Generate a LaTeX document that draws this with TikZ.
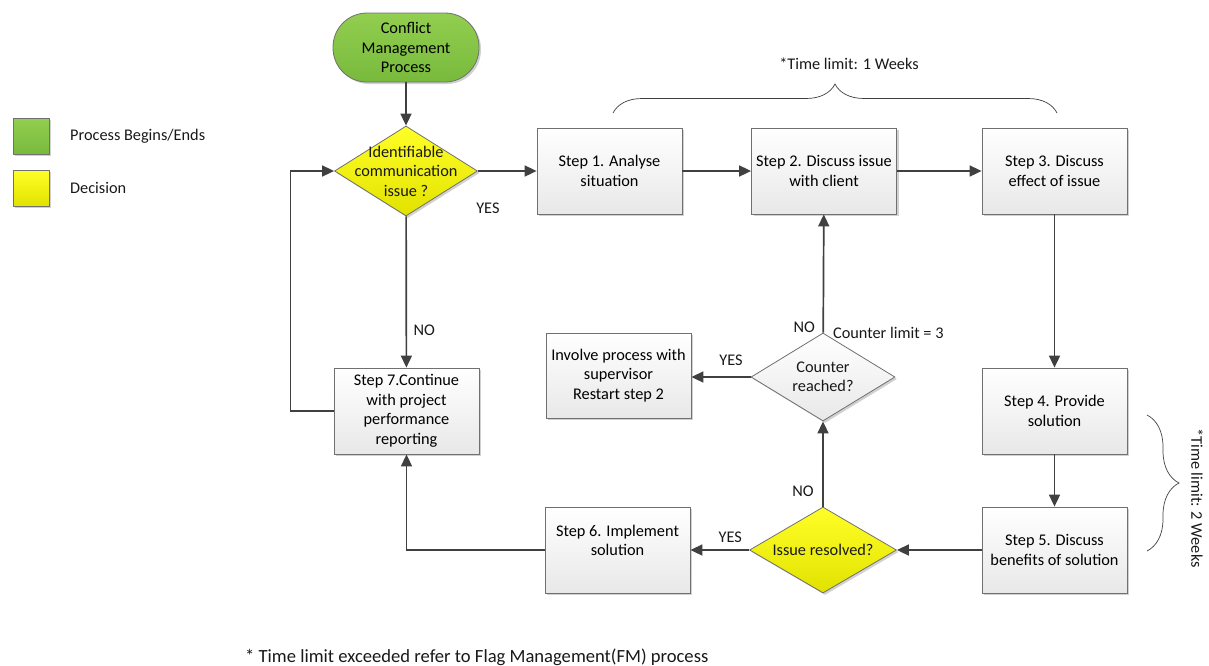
\documentclass[tikz,border=0pt]{standalone}
\usepackage{fontspec}
\setmainfont{Carlito}
\usepackage{tikz}
\usetikzlibrary{positioning,arrows.meta,shapes.geometric,shadows,decorations.pathreplacing}
\definecolor{linegray}{RGB}{64,64,64}
\definecolor{boxedge}{RGB}{112,112,112}
\definecolor{startgreen}{RGB}{146,206,80}
\definecolor{startgreendark}{RGB}{120,186,60}
\definecolor{decyellow}{RGB}{255,255,40}
\definecolor{decyellowdark}{RGB}{226,226,0}
\newcommand{\flowfont}{\fontsize{16.3}{19.5}\selectfont}
\tikzset{
  flowshadow/.style={drop shadow={shadow xshift=2pt, shadow yshift=-2pt, fill=black!30, opacity=.6}},
  flowbox/.style={draw=boxedge, line width=0.8pt, top color=white, bottom color=black!9,
    align=center, font=\flowfont, minimum width=145pt, minimum height=86pt, inner sep=2pt, flowshadow},
  flowstart/.style={flowbox, rounded corners=34pt, minimum height=69pt, minimum width=146pt,
    top color=startgreen, bottom color=startgreendark},
  flowdec/.style={diamond, draw=boxedge, line width=0.8pt, top color=white, bottom color=black!9,
    minimum width=144pt, minimum height=88pt, inner sep=0pt, flowshadow},
  flowyes/.style={top color=decyellow, bottom color=decyellowdark},
  flowkey/.style={draw=boxedge, line width=0.8pt, minimum size=36pt, inner sep=0pt, flowshadow},
  flowtext/.style={font=\flowfont, align=center, inner sep=0pt, text=black!90},
  flowarrow/.style={-{Triangle[length=12pt, width=11pt]}, line width=1.7pt, draw=linegray},
  flowbrace/.style={decorate, draw=linegray, line width=0.7pt},
}

\begin{document}
\begin{tikzpicture}[x=1pt, y=-1pt]
  \useasboundingbox (0,0) rectangle (1209,665);
  % legend
  \node[flowkey, top color=startgreen, bottom color=startgreendark] (keystart) at (31,136) {};
  \node[flowtext, anchor=west] (keystarttext) at (70,136) {Process Begins/Ends};
  \node[flowkey, flowyes] (keydec) at (31,188) {};
  \node[flowtext, anchor=west] (keydectext) at (70,188) {Decision};
  % top row
  \node[flowstart] (start) at (406,47.5) {Conflict\\Management\\Process};
  \node[flowdec, flowyes, minimum width=143pt, minimum height=90pt,
    label={[flowtext]center:Identifiable\\communication\\issue ?}] (ident) at (406,171) {};
  \node[flowbox] (step1) at (609.5,171) {Step 1. Analyse\\situation};
  \node[flowbox] (step2) at (824,171) {Step 2. Discuss issue\\with client};
  \node[flowbox] (step3) at (1054.5,171) {Step 3. Discuss\\effect of issue};
  % right column and bottom row
  \node[flowbox] (step4) at (1054.5,411) {Step 4. Provide\\solution};
  \node[flowbox] (step5) at (1054.5,550) {Step 5. Discuss\\benefits of solution};
  \node[flowdec, flowyes, minimum width=147pt, minimum height=86pt,
    label={[flowtext]center:Issue resolved?}] (resolved) at (823,550) {};
  \node[flowbox] (step6) at (617.5,550) {Step 6. Implement\\solution\\~};
  \node[flowbox] (step7) at (406.5,411) {Step 7.Continue\\with project\\performance\\reporting};
  % counter loop
  \node[flowdec, label={[flowtext]center:Counter\\reached?}] (counter) at (823,377) {};
  \node[flowbox, minimum height=85pt] (involve) at (618.5,375.5) {Involve process with\\supervisor\\Restart step 2};
  % connectors
  \draw[flowarrow] (start) -- (ident);
  \draw[flowarrow] (ident) -- node[flowtext, pos=.17, yshift=-37pt] {YES} (step1);
  \draw[flowarrow] (step1) -- (step2);
  \draw[flowarrow] (step2) -- (step3);
  \draw[flowarrow] (step3) -- (step4);
  \draw[flowarrow] (step4) -- (step5);
  \draw[flowarrow] (step5) -- (resolved);
  \draw[flowarrow] (resolved) -- node[flowtext, pos=.32, yshift=13pt] {YES} (step6);
  \draw[flowarrow] (resolved) -- node[flowtext, pos=.18, xshift=-20pt] {NO} (counter);
  \draw[flowarrow] (counter) -- node[flowtext, pos=.05, xshift=-19pt] {NO}
    node[flowtext, pos=0, anchor=west, xshift=9pt] {Counter limit = 3} (step2);
  \draw[flowarrow] (counter.west) -- node[flowtext, pos=.33, yshift=17pt] {YES} (counter.west -| involve.east);
  \draw[flowarrow] (step6.west) -| (step7.south);
  \draw[flowarrow] (ident) -- node[flowtext, pos=.75, xshift=18pt] {NO} (step7);
  \draw[flowarrow] (step7.west) -- ++(-43,0) |- (ident.west);
  % time limits
  \draw[flowbrace, decoration={brace, amplitude=29pt}] (613,113) -- (1057,113);
  \node[flowtext] (limitweek) at (849,64) {*Time limit: 1 Weeks};
  \draw[flowbrace, decoration={brace, amplitude=32pt}] (1147,415) -- (1147,551);
  \node[flowtext, rotate=-90] (limitweeks) at (1197,498) {*Time limit: 2 Weeks};
  \node[flowtext, font=\fontsize{18.6}{22}\selectfont, anchor=west] (footnote) at (245,657)
    {* Time limit exceeded refer to Flag Management(FM) process};
\end{tikzpicture}
\end{document}
